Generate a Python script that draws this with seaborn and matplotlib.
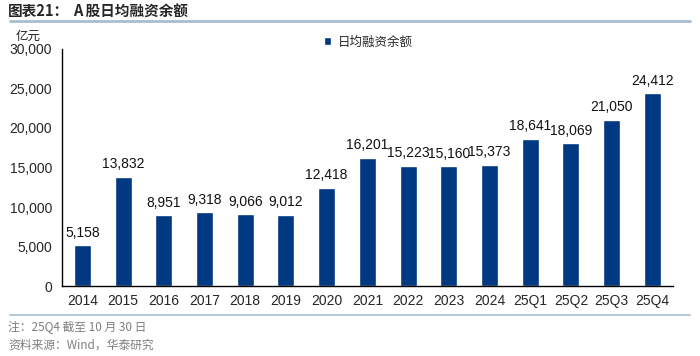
import matplotlib
matplotlib.use("Agg")
import matplotlib.pyplot as plt
import seaborn as sns
import pandas as pd
from matplotlib.ticker import FuncFormatter, FixedLocator

# Data
periods = ["2014", "2015", "2016", "2017", "2018", "2019", "2020", "2021",
           "2022", "2023", "2024", "25Q1", "25Q2", "25Q3", "25Q4"]
margin_balance = [5158, 13832, 8951, 9318, 9066, 9012, 12418, 16201,
                  15223, 15160, 15373, 18641, 18069, 21050, 24412]
series_name = "日均融资余额"

df = pd.DataFrame({"period": periods, "value": margin_balance})

sns.set_style("white")
plt.rcParams['font.family'] = ['Noto Sans CJK SC', 'DejaVu Sans']
cjk = ['Noto Sans CJK SC', 'DejaVu Sans']
latin = ['Liberation Sans', 'Noto Sans CJK SC']

bar_color = "#003882"

fig = plt.figure(figsize=(7, 3.56), dpi=100)
ax = fig.add_axes([0.0886, 0.1966, 0.8724, 0.6658])

sns.barplot(data=df, x="period", y="value", color=bar_color, width=0.42,
            saturation=1, ax=ax, label=series_name)

for i, v in enumerate(margin_balance):
    ax.text(i, v + 700, f"{v:,}", ha="center", va="bottom", fontsize=10,
            family=latin, color="#111111")

ax.set_ylim(0, 30000)
ax.set_xlim(-0.5, len(periods) - 0.5)
ax.set_yticks(range(0, 30001, 5000))
ax.yaxis.set_major_formatter(FuncFormatter(lambda v, p: f"{int(v):,}"))
ax.set_xlabel("")
ax.set_ylabel("")

for s in ["top", "right"]:
    ax.spines[s].set_visible(False)
for s in ["left", "bottom"]:
    ax.spines[s].set_color("black")
    ax.spines[s].set_linewidth(1.0)

ax.tick_params(axis="y", direction="out", length=4, width=1, color="black",
               labelsize=10, pad=3)
ax.tick_params(axis="x", which="major", length=0, labelsize=10, pad=6)
ax.xaxis.set_minor_locator(FixedLocator([i - 0.5 for i in range(len(periods) + 1)]))
ax.tick_params(axis="x", which="minor", direction="out", length=4, width=1, color="black")
for lbl in ax.get_xticklabels() + ax.get_yticklabels():
    lbl.set_fontfamily(latin)

leg = ax.legend(loc="center left", bbox_to_anchor=(0.41, 1.03), frameon=False,
                handlelength=0.6, handleheight=0.6, handletextpad=0.5,
                prop={"family": cjk, "size": 9})

# Unit label
fig.text(0.022, 0.897, "亿元", fontsize=9, family=cjk, color="#222222",
         va="center")

# Title
fig.text(0.012, 0.97, "图表21：", fontsize=10.5, fontweight="bold", family=cjk,
         va="center")
fig.text(0.105, 0.97, "A 股日均融资余额", fontsize=10.5, fontweight="bold",
         family=cjk, va="center")
fig.add_artist(plt.Line2D([0.014, 0.986], [0.942, 0.942], color="#A9BCD0",
                          linewidth=2, transform=fig.transFigure))

# Bottom rule and notes
fig.add_artist(plt.Line2D([0.014, 0.986], [0.115, 0.115], color="#A9BCD0",
                          linewidth=1.2, transform=fig.transFigure))
fig.text(0.012, 0.08, "注：25Q4 截至 10 月 30 日", fontsize=8.5, family=cjk,
         color="#7F7F7F", va="center")
fig.text(0.012, 0.03, "资料来源：Wind，华泰研究", fontsize=8.5, family=cjk,
         color="#7F7F7F", va="center")

fig.savefig("out.png", dpi=100)
